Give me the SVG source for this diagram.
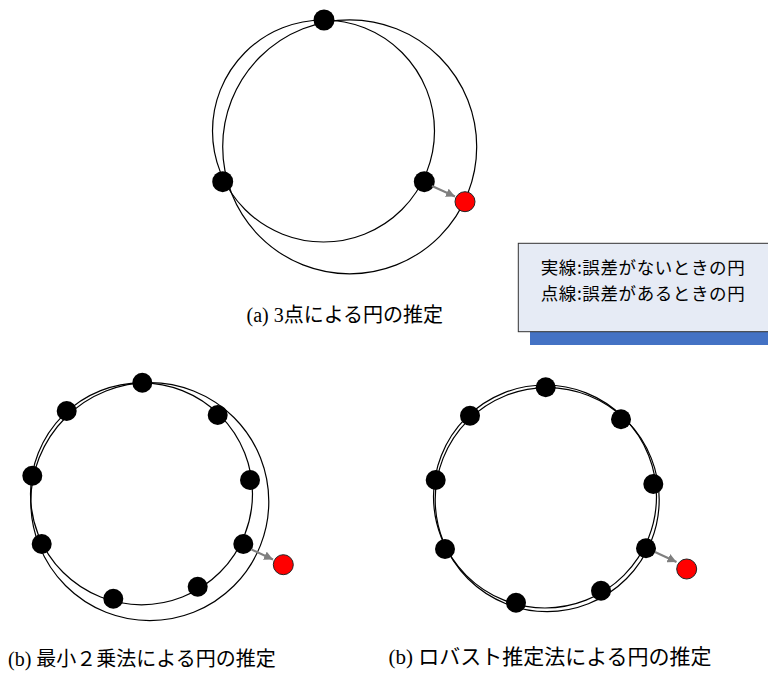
<svg xmlns="http://www.w3.org/2000/svg" width="768" height="673" viewBox="0 0 768 673">
  <style>
    .ring { fill: none; stroke: #000; stroke-width: 1.2; }
    .pt { fill: #000; }
    .out { fill: #FF0000; stroke: #222; stroke-width: 1; }
    .arr { stroke: #7F7F7F; stroke-width: 2; fill: none; marker-end: url(#ah); }
    .cap { font-family: "Liberation Serif", "Noto Sans CJK JP", serif; font-size: 20px; fill: #000; }
    .leg { font-family: "Noto Sans CJK JP", "Liberation Sans", sans-serif; font-size: 17.5px; fill: #000; text-anchor: middle; letter-spacing: 0.6px; }
  </style>
  <defs>
    <marker id="ah" viewBox="0 0 10 10" refX="10" refY="5" markerWidth="4.5" markerHeight="4.5" orient="auto" markerUnits="strokeWidth">
      <path d="M0,0 L10,5 L0,10 Z" fill="#7F7F7F"/>
    </marker>
  </defs>
  <rect width="768" height="673" fill="#fff"/>

  <!-- (a) three-point estimate -->
  <g id="diagram-a">
    <circle class="ring" cx="323.5" cy="131" r="111"/>
    <circle class="ring" cx="349.7" cy="146.8" r="127"/>
    <g id="a-points">
      <circle class="pt" cx="324" cy="20" r="10.5"/>
      <circle class="pt" cx="222.7" cy="181.7" r="10.5"/>
      <circle class="pt" cx="424.3" cy="181.7" r="10.5"/>
      <circle class="out" cx="465" cy="201.7" r="10"/>
    </g>
  </g>

  <!-- (b) least squares -->
  <g id="diagram-b1">
    <circle class="ring" cx="141.5" cy="493.8" r="111"/>
    <circle class="ring" cx="149.8" cy="501.6" r="119"/>
    <g id="b1-points">
      <circle class="pt" cx="142.3" cy="382.7" r="10"/>
      <circle class="pt" cx="66.7" cy="411" r="10"/>
      <circle class="pt" cx="217.7" cy="415" r="10"/>
      <circle class="pt" cx="32.3" cy="475.7" r="10"/>
      <circle class="pt" cx="250" cy="480" r="10"/>
      <circle class="pt" cx="41.7" cy="544" r="10"/>
      <circle class="pt" cx="243.3" cy="544" r="10"/>
      <circle class="pt" cx="197.7" cy="586.7" r="10"/>
      <circle class="pt" cx="113.3" cy="598.7" r="10"/>
      <circle class="out" cx="283.3" cy="564.7" r="10"/>
    </g>
  </g>

  <!-- (b) robust estimate -->
  <g id="diagram-b2">
    <circle class="ring" cx="545" cy="496.5" r="111.5"/>
    <circle class="ring" cx="547.2" cy="499.6" r="112"/>
    <g id="b2-points">
      <circle class="pt" cx="545.7" cy="387.3" r="10"/>
      <circle class="pt" cx="470" cy="415.7" r="10"/>
      <circle class="pt" cx="621" cy="419.3" r="10"/>
      <circle class="pt" cx="435.7" cy="480" r="10"/>
      <circle class="pt" cx="653.3" cy="484" r="10"/>
      <circle class="pt" cx="445" cy="549" r="10"/>
      <circle class="pt" cx="646" cy="548.3" r="10"/>
      <circle class="pt" cx="601" cy="590.7" r="10"/>
      <circle class="pt" cx="516" cy="602.7" r="10"/>
      <circle class="out" cx="686.7" cy="569" r="10"/>
    </g>
  </g>

  <g id="connectors">
    <line class="arr" x1="432" y1="186" x2="455" y2="196.5"/>
    <line class="arr" x1="251.5" y1="549.5" x2="273" y2="559.5"/>
    <line class="arr" x1="655" y1="552" x2="676.5" y2="562"/>
  </g>

  <g id="legend">
    <rect x="530" y="256" width="260" height="89" fill="#4472C4"/>
    <rect x="518.3" y="243.3" width="270" height="88.4" fill="#E6EBF5" stroke="#333" stroke-width="1"/>
    <text class="leg" x="643" y="273.5">実線:誤差がないときの円</text>
    <text class="leg" x="643" y="299.5">点線:誤差があるときの円</text>
  </g>

  <g id="captions">
    <text class="cap" x="246.5" y="322">(a) 3点による円の推定</text>
    <text class="cap" x="8" y="665.5">(b) 最小２乗法による円の推定</text>
    <text class="cap" x="388.5" y="663.5" style="font-size:21px">(b) ロバスト推定法による円の推定</text>
  </g>
</svg>
